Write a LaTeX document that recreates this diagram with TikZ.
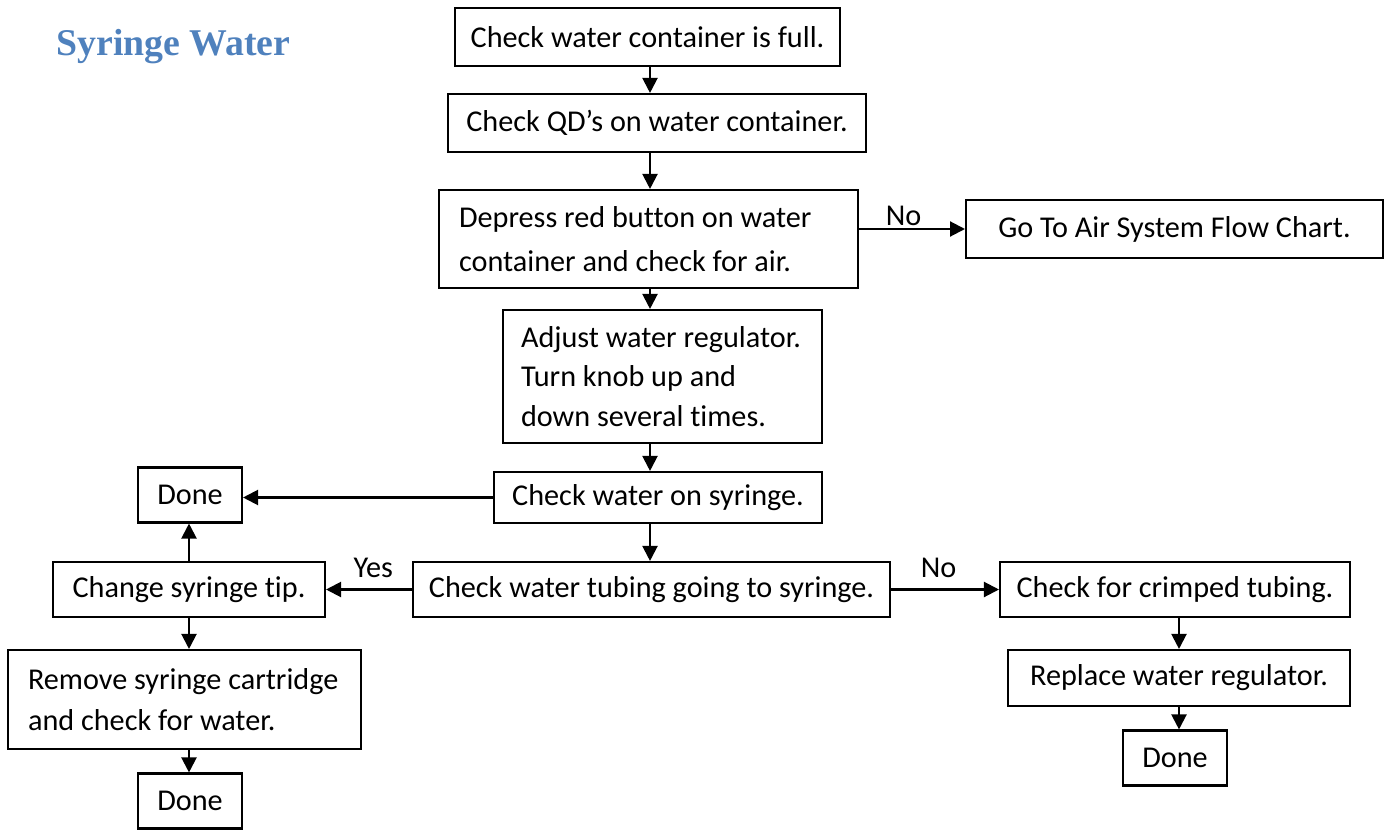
\documentclass[tikz,border=0pt]{standalone}
\usepackage{fontspec}
\setmainfont{Carlito}[Ligatures=NoCommon]
\newfontfamily\headfont{Liberation Serif}
\usetikzlibrary{arrows.meta,positioning}
\definecolor{headblue}{RGB}{79,129,189}

\begin{document}
\begin{tikzpicture}[x=0.02cm, y=-0.02cm,
  box/.style={draw, line width=1.2pt, inner sep=2pt, align=center,
              font=\fontsize{17.2}{24}\selectfont},
  multibox/.style={box, align=flush left, inner xsep=0.4cm},
  donebox/.style={box, minimum width=2.08cm, minimum height=1.1cm},
  lbl/.style={font=\fontsize{17.2}{19}\selectfont, inner sep=1pt},
  arrow/.style={-{Triangle[length=0.3cm, width=0.3cm]}, line width=1.2pt}]

\useasboundingbox (0,0) rectangle (1393,831);

\node[font=\headfont\bfseries\fontsize{21.5}{24}\selectfont, text=headblue,
      anchor=west, inner sep=0pt] (title) at (56,47) {Syringe Water};

\coordinate (mainx) at (650,0);

\node[box, minimum width=7.7cm, minimum height=1.16cm] (full) at (647.5,37)
  {Check water container is full.};
\node[box, minimum width=8.36cm, minimum height=1.16cm] (qd) at (657,123)
  {Check QD’s on water container.};
\node[multibox, text width=7.58cm, minimum height=1.96cm,
      font=\fontsize{17.2}{25}\selectfont] (red) at (648.5,239)
  {Depress red button on water\\container and check for air.};
\node[box, minimum width=8.34cm, minimum height=1.16cm] (air) at (1174.5,229)
  {Go To Air System Flow Chart.};
\node[multibox, text width=5.66cm, minimum height=2.66cm, inner xsep=0.36cm,
      font=\fontsize{17.2}{22.5}\selectfont] (reg) at (662.5,376.5)
  {Adjust water regulator.\\Turn knob up and\\down several times.};
\node[box, minimum width=6.56cm, minimum height=1.02cm] (syr) at (658,497.5)
  {Check water on syringe.};
\node[donebox] (doneA) at (190,495) {Done};
\node[box, minimum width=5.44cm, minimum height=1.1cm] (tip) at (189,589.5)
  {Change syringe tip.};
\node[box, minimum width=9.54cm, minimum height=1.1cm] (tube) at (651.5,589.5)
  {Check water tubing going to syringe.};
\node[box, minimum width=7cm, minimum height=1.1cm] (crimp) at (1175,589.5)
  {Check for crimped tubing.};
\node[box, minimum width=6.84cm, minimum height=1.12cm] (repl) at (1179,678)
  {Replace water regulator.};
\node[donebox] (doneC) at (1175,758) {Done};
\node[multibox, text width=6.26cm, minimum height=1.98cm,
      font=\fontsize{17.2}{23}\selectfont] (cart) at (184.5,699.5)
  {Remove syringe cartridge\\and check for water.};
\node[donebox] (doneB) at (190,801) {Done};

\draw[arrow] (full.south -| mainx) -- (qd.north -| mainx);
\draw[arrow] (qd.south -| mainx) -- (red.north -| mainx);
\draw[arrow] (red.south -| mainx) -- (reg.north -| mainx);
\draw[arrow] (reg.south -| mainx) -- (syr.north -| mainx);
\draw[arrow] (syr.south -| mainx) -- (tube.north -| mainx);
\draw[arrow] (air.west -| red.east) -- node[lbl, above, pos=0.42] (no1) {No} (air.west);
\draw[arrow] (syr.west) -- (syr.west -| doneA.east);
\draw[arrow] (tube.west) -- node[lbl, above=5pt, pos=0.45] (yes) {Yes} (tip.east);
\draw[arrow] (tube.east) -- node[lbl, above=5pt, pos=0.44] (no2) {No} (crimp.west);
\draw[arrow] (tip.north) -- (tip.north |- doneA.south);
\draw[arrow] (tip.south) -- (tip.south |- cart.north);
\draw[arrow] (cart.south -| tip) -- (doneB.north -| tip);
\draw[arrow] (crimp.south -| repl) -- (repl.north);
\draw[arrow] (repl.south) -- (repl.south |- doneC.north);
\end{tikzpicture}
\end{document}
